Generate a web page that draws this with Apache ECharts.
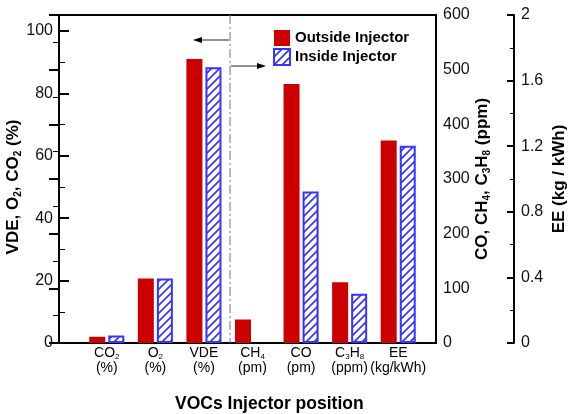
<!DOCTYPE html>
<html><head><meta charset="utf-8">
<script src="https://cdn.jsdelivr.net/npm/echarts@6/dist/echarts.min.js"></script>
<style>html,body{margin:0;padding:0;background:#fff}#c{width:568px;height:414px}</style>
</head><body><div id="c"></div>
<script>
// ---- data ----
const categories = ['CO2', 'O2', 'VDE', 'CH4', 'CO', 'C3H8', 'EE'];
const units = ['(%)', '(%)', '(%)', '(pm)', '(pm)', '(ppm)', '(kg/kWh)'];
const axisGroup = ['pct', 'pct', 'pct', 'ppm', 'ppm', 'ppm', 'ee'];
const outsideValues = [2.0, 20.7, 91.0, 43, 474, 111, 1.234];
const insideValues = [2.4, 20.7, 88.4, null, 277, 90, 1.203];
const pctTicks = [0, 20, 40, 60, 80, 100];
const ppmTicks = [0, 100, 200, 300, 400, 500, 600];
const eeTicks = [0, 0.4, 0.8, 1.2, 1.6, 2];

// ---- styles ----
const RED = '#cc0000', BLUE = '#3535ff';
const FONT = '"Liberation Sans", Arial, sans-serif';
const LEFT_HIDDEN_MAX = 100 * 328 / 312; // left scale extended to frame top

function hatch() {
  const c = document.createElement('canvas');
  c.width = 8; c.height = 8;
  const g = c.getContext('2d');
  g.fillStyle = '#fff'; g.fillRect(0, 0, 8, 8);
  g.strokeStyle = BLUE; g.lineWidth = 1.7;
  g.beginPath();
  g.moveTo(-1, 9); g.lineTo(9, -1);
  g.moveTo(-3, 3); g.lineTo(3, -3);
  g.moveTo(5, 11); g.lineTo(11, 5);
  g.stroke();
  return c;
}
const hatchPattern = { image: hatch(), repeat: 'repeat' };

function sub(s) { // "C3H8" -> rich text with subscripts
  return s.replace(/([A-Za-z])(\d)/g, '$1{s|$2}').replace(/(^|\})([^{}]+?)(?=\{|$)/g, (m, a, b) => a + '{n|' + b + '}');
}
const catLabels = categories.map((c, i) => sub(c) + '\n{n|' + units[i] + '}');

const groups = ['pct', 'ppm', 'ee'];
function mask(arr, grp) { return arr.map((v, i) => axisGroup[i] === grp ? v : null); }

const series = [];
groups.forEach((grp, gi) => {
  series.push({
    name: 'Outside Injector', type: 'bar', xAxisIndex: gi, yAxisIndex: gi,
    data: mask(outsideValues, grp), barWidth: 16, barGap: '19%',
    itemStyle: { color: RED }, emphasis: { disabled: true }
  });
  series.push({
    name: 'Inside Injector', type: 'bar', xAxisIndex: gi, yAxisIndex: gi,
    data: mask(insideValues, grp), barWidth: 16, barGap: '19%',
    itemStyle: { color: hatchPattern, borderColor: BLUE, borderWidth: 2 }, emphasis: { disabled: true }
  });
});

const tickLabelStyle = { fontFamily: FONT, fontSize: 16, color: '#111' };
const nameStyle = {
  fontFamily: FONT, fontSize: 17, fontWeight: 'bold', color: '#000',
  rich: {
    n: { fontFamily: FONT, fontSize: 17, fontWeight: 'bold', color: '#000' },
    s: { fontFamily: FONT, fontSize: 10, fontWeight: 'bold', color: '#000', verticalAlign: 'bottom', padding: [9, 0, 0, 0] }
  }
};

const chart = echarts.init(document.getElementById('c'), null, { renderer: 'canvas' });
chart.setOption({
  animation: false,
  backgroundColor: '#fff',
  grid: [
    { left: 82.5, right: 145.5, top: 15, bottom: 71, outerBoundsMode: 'none', containLabel: false },
    { left: 59, right: 132, top: 15, bottom: 71, show: true, borderColor: '#000', borderWidth: 2, backgroundColor: 'transparent', outerBoundsMode: 'none', containLabel: false },
    { left: 59, right: 132, top: 31, bottom: 71, outerBoundsMode: 'none', containLabel: false }
  ],
  legend: {
    data: ['Outside Injector', 'Inside Injector'], orient: 'vertical', left: 273, top: 30, padding: 0,
    itemWidth: 16, itemHeight: 16, itemGap: 2, icon: 'rect',
    textStyle: { fontFamily: FONT, fontSize: 15, fontWeight: 'bold', color: '#000' },
    selectedMode: false
  },
  xAxis: [
    {
      type: 'category', gridIndex: 0, data: categories,
      axisLine: { show: false }, axisTick: { show: false },
      axisLabel: {
        margin: 3, interval: 0,
        formatter: (v, i) => catLabels[i],
        rich: {
          n: { fontFamily: FONT, fontSize: 14, color: '#000', lineHeight: 15 },
          s: { fontFamily: FONT, fontSize: 8, color: '#000', verticalAlign: 'bottom', padding: [8, 0, 0, 0], lineHeight: 15 }
        }
      }
    },
    { type: 'category', gridIndex: 0, data: categories, show: false },
    { type: 'category', gridIndex: 0, data: categories, show: false },
    { type: 'value', gridIndex: 1, show: false },
    { type: 'value', gridIndex: 2, show: false }
  ],
  yAxis: [
    { type: 'value', gridIndex: 0, min: 0, max: LEFT_HIDDEN_MAX, show: false, splitLine: { show: false } },
    { type: 'value', gridIndex: 0, min: 0, max: 600, show: false, splitLine: { show: false } },
    { type: 'value', gridIndex: 0, min: 0, max: 2, show: false, splitLine: { show: false } },
    {
      type: 'value', gridIndex: 1, position: 'right', min: ppmTicks[0], max: ppmTicks[ppmTicks.length - 1], interval: 100,
      axisLine: { show: true, lineStyle: { color: '#000', width: 2 } },
      axisTick: { inside: true, length: 10, lineStyle: { color: '#000', width: 2 } },
      minorTick: { show: true, splitNumber: 2, length: 6, lineStyle: { color: '#000', width: 1 } },
      splitLine: { show: false },
      axisLabel: Object.assign({ margin: 7 }, tickLabelStyle),
      name: '{n|CO, CH}{s|4}{n|, C}{s|3}{n|H}{s|8}{n| (ppm)}', nameLocation: 'middle', nameRotate: 90, nameGap: 37,
      nameMoveOverlap: false, nameTextStyle: nameStyle
    },
    {
      type: 'value', gridIndex: 1, position: 'right', offset: 78, min: eeTicks[0], max: eeTicks[eeTicks.length - 1], interval: 0.4,
      axisLine: { show: true, lineStyle: { color: '#000', width: 2 } },
      axisTick: { inside: true, length: 7, lineStyle: { color: '#000', width: 2 } },
      minorTick: { show: true, splitNumber: 2, length: 4, lineStyle: { color: '#000', width: 1 } },
      splitLine: { show: false },
      axisLabel: Object.assign({ margin: 7 }, tickLabelStyle),
      name: '{n|EE (kg / kWh)}', nameLocation: 'middle', nameRotate: 90, nameGap: 37,
      nameMoveOverlap: false, nameTextStyle: nameStyle
    },
    {
      type: 'value', gridIndex: 2, position: 'left', min: pctTicks[0], max: pctTicks[pctTicks.length - 1], interval: 20,
      axisLine: { show: true, lineStyle: { color: '#000', width: 2 } },
      axisTick: { inside: true, length: 10, lineStyle: { color: '#000', width: 2 } },
      minorTick: { show: true, splitNumber: 2, length: 6, lineStyle: { color: '#000', width: 1 } },
      splitLine: { show: false },
      axisLabel: Object.assign({ margin: 6 }, tickLabelStyle),
      name: '{n|VDE, O}{s|2}{n|, CO}{s|2}{n| (%)}', nameLocation: 'middle', nameRotate: 90, nameGap: 36,
      nameMoveOverlap: false, nameTextStyle: nameStyle
    }
  ],
  series: series,
  graphic: [
    { type: 'line', shape: { x1: 230, y1: 15, x2: 230, y2: 343 }, style: { stroke: '#777', lineWidth: 1, lineDash: [9, 3, 2, 3] }, z: 1 },
    { type: 'line', shape: { x1: 229, y1: 40, x2: 200, y2: 40 }, style: { stroke: '#222', lineWidth: 1 } },
    { type: 'polygon', shape: { points: [[193, 40], [202, 37], [202, 43]] }, style: { fill: '#000' } },
    { type: 'line', shape: { x1: 231, y1: 66, x2: 259, y2: 66 }, style: { stroke: '#222', lineWidth: 1 } },
    { type: 'polygon', shape: { points: [[266, 66], [257, 63], [257, 69]] }, style: { fill: '#000' } },
    { type: 'text', left: 175, top: 395, style: { text: 'VOCs Injector position', font: 'bold 17.5px ' + FONT, fill: '#000' } }
  ]
});
</script></body></html>
